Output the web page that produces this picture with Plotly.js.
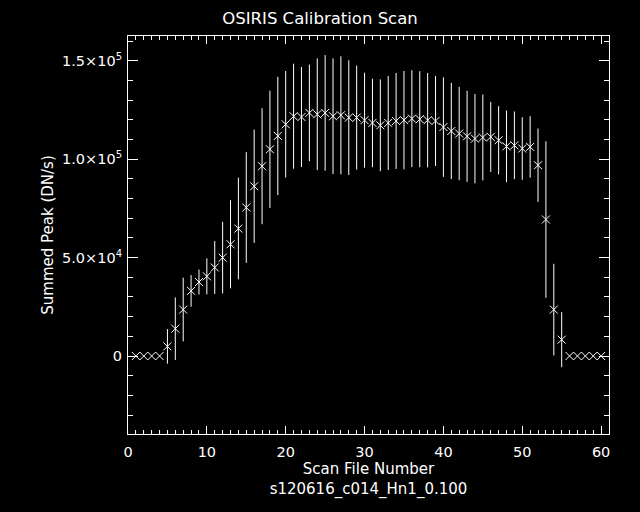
<!DOCTYPE html>
<html>
<head>
<meta charset="utf-8">
<script src="https://cdn.plot.ly/plotly-3.0.1.min.js"></script>
<style>html,body{margin:0;padding:0;background:#000;}#chart{width:640px;height:512px;}</style>
</head>
<body>
<div id="chart"></div>
<script>
// Scan file numbers
var fileNum = [1,2,3,4,5,6,7,8,9,10,11,12,13,14,15,16,17,18,19,20,21,22,23,24,25,26,27,28,29,30,31,32,33,34,35,36,37,38,39,40,41,42,43,44,45,46,47,48,49,50,51,52,53,54,55,56,57,58,59,60];
// Summed peak (DN/s)
var summedPeak = [0,0,0,0,4900,13900,23600,33100,37600,40500,45000,50000,56800,64800,75500,86300,96500,105100,111900,117800,121900,121500,123600,122900,123600,121900,122400,121200,121200,119900,118500,117300,118500,119500,119900,120700,120400,119900,119500,116400,114400,113100,111700,110500,111100,111400,109700,106600,107100,105500,106300,97000,69400,23600,8300,0,0,0,0,0];
// Error (DN/s)
var peakError = [0,0,0,0,8800,15900,16200,8050,6350,9150,13450,18200,22400,25850,28150,28800,29500,29800,30050,27100,26700,25450,24550,28400,29400,29400,30000,29200,26450,24150,22500,23350,23900,24400,25000,24600,24400,24000,22900,25300,24450,23750,23150,22700,21800,17800,17350,18200,17200,15900,15650,18650,39800,23300,14000,0,0,0,0,0];
// Y tick labels
var yTickVals = [0, 50000, 100000, 150000];
var yTickText = ['0', '5.0×10<sup>4</sup>', '1.0×10<sup>5</sup>', '1.5×10<sup>5</sup>'];

var fam = 'DejaVu Sans, Verdana, sans-serif';
var tickFont = {family: fam, size: 14.5, color: '#ffffff'};
var axTitleFont = {family: fam, size: 15, color: '#ffffff'};
var mainTitleFont = {family: fam, size: 16.5, color: '#ffffff'};

var trace = {
  x: fileNum,
  y: summedPeak,
  type: 'scatter',
  mode: 'markers',
  cliponaxis: false,
  marker: {symbol: 'x-thin', size: 8, color: '#ffffff', line: {color: '#ffffff', width: 1}},
  error_y: {type: 'data', array: peakError, visible: true, color: '#ffffff', thickness: 1, width: 0},
  showlegend: false
};

var axisCommon = {
  showline: true, linecolor: '#ffffff', linewidth: 1, mirror: 'ticks',
  ticks: 'inside', tickcolor: '#ffffff', tickwidth: 1,
  showgrid: false, zeroline: false, tickfont: tickFont
};

var layout = {
  width: 640, height: 512,
  paper_bgcolor: '#000000', plot_bgcolor: '#000000',
  margin: {l: 128, r: 31, t: 36, b: 78},
  font: tickFont,
  title: {text: 'OSIRIS Calibration Scan', font: mainTitleFont, x: 0.5, xref: 'container', y: 0.964, yref: 'container', yanchor: 'middle'},
  xaxis: Object.assign({}, axisCommon, {
    range: [0, 61], dtick: 10, tick0: 0, ticklen: 8, ticklabelstandoff: 5,
    minor: {ticks: 'inside', dtick: 1, ticklen: 4, tickcolor: '#ffffff', showgrid: false},
    title: {text: 'Scan File Number<br>s120616_c014_Hn1_0.100', font: axTitleFont, standoff: 3}
  }),
  yaxis: Object.assign({}, axisCommon, {
    range: [-39660, 162700], tickvals: yTickVals, ticktext: yTickText, ticklen: 10, ticklabelstandoff: 2,
    minor: {ticks: 'inside', dtick: 10000, tick0: 0, ticklen: 5, tickcolor: '#ffffff', showgrid: false},
    title: {text: 'Summed Peak (DN/s)', font: axTitleFont, standoff: 4}
  })
};

Plotly.newPlot('chart', [trace], layout, {displayModeBar: false, staticPlot: true});
</script>
</body>
</html>
